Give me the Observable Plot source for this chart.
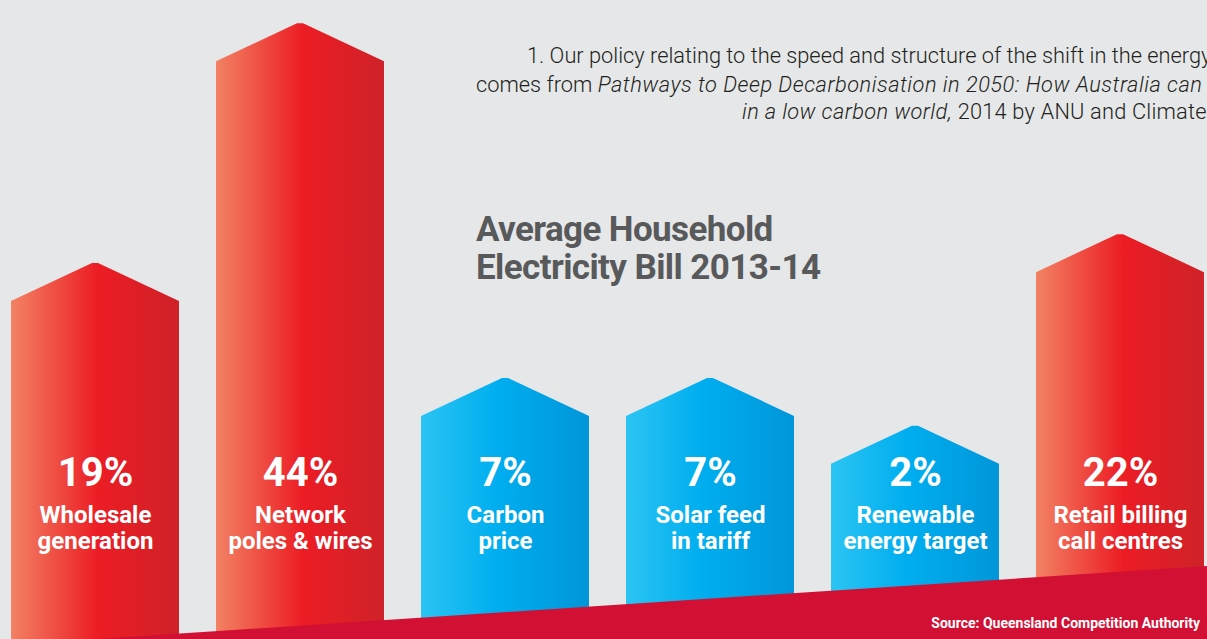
<!DOCTYPE html>
<html>
<head>
<meta charset="utf-8">
<script src="https://cdn.jsdelivr.net/npm/d3@7"></script>
<script src="https://cdn.jsdelivr.net/npm/@observablehq/plot@0.6"></script>
<style>
  html, body { margin: 0; padding: 0; background: #e6e7e8; overflow: hidden; }
  #wrap { position: relative; width: 1207px; height: 639px; overflow: hidden; }
  #wrap svg { position: absolute; left: 0; top: 0; }
  .note { position: absolute; white-space: nowrap; font-family: "Roboto", sans-serif; font-weight: 300; font-size: 21.8px; color: #231f20; }
  .note i { letter-spacing: 0.5px; }
  .note.l3 { letter-spacing: 0.2px; }
  .note.l3 i { letter-spacing: 0.4px; }
  .title { position: absolute; left: 476px; top: 211px; font-family: "Roboto", sans-serif; font-weight: 700; font-size: 35px; line-height: 38px; color: #58595b; letter-spacing: -0.6px; white-space: nowrap; }
  .source { position: absolute; right: 7px; bottom: 8px; font-family: "Roboto", sans-serif; font-weight: 700; font-size: 14px; color: #ffffff; white-space: nowrap; }
</style>
</head>
<body>
<div id="wrap"></div>
<script>
// ---- data ----
const categories = ["Wholesale generation", "Network poles & wires", "Carbon price", "Solar feed in tariff", "Renewable energy target", "Retail billing call centres"];
const shares = [19, 44, 7, 7, 2, 22];
const groups = ["supply", "supply", "policy", "policy", "policy", "supply"];
const labelLine1 = ["Wholesale", "Network", "Carbon", "Solar feed", "Renewable", "Retail billing"];
const labelLine2 = ["generation", "poles & wires", "price", "in tariff", "energy target", "call centres"];
const titleLines = ["Average Household", "Electricity Bill 2013-14"];
const noteLines = [
  "1. Our policy relating to the speed and structure of the shift in the energy",
  "comes from <i>Pathways to Deep Decarbonisation in 2050: How Australia can p</i>",
  "<i>in a low carbon world,</i> 2014 by ANU and Climate"
];
const sourceText = "Source: Queensland Competition Authority";

// ---- styles ----
const gradients = {
  supply: [["0%", "#f28263"], ["52%", "#ec1c24"], ["100%", "#cf2229"]],
  policy: [["0%", "#2bc4f3"], ["45%", "#00aeef"], ["100%", "#0096d9"]]
};

const data = categories.map((c, i) => ({
  category: c, share: shares[i], group: groups[i],
  pct: shares[i] + "%", label: labelLine1[i] + "\n" + labelLine2[i]
}));

function houseRender(index, scales, values, dimensions) {
  const bw = scales.x.bandwidth();
  const g = d3.create("svg:g");
  const defs = g.append("defs");
  for (const [key, stops] of Object.entries(gradients)) {
    const lg = defs.append("linearGradient").attr("id", "grad-" + key)
      .attr("x1", "0").attr("x2", "1").attr("y1", "0").attr("y2", "0");
    for (const [o, c] of stops) lg.append("stop").attr("offset", o).attr("stop-color", c);
  }
  const roof = 38, flat = 3, bottom = dimensions.height;
  for (const i of index) {
    const x0 = values.x[i], x1 = x0 + bw, cx = (x0 + x1) / 2;
    const ys = Math.min(values.y1[i], values.y2[i]);
    const path = d3.path();
    path.moveTo(x0, bottom);
    path.lineTo(x0, ys);
    path.lineTo(cx - flat, ys - roof);
    path.lineTo(cx + flat, ys - roof);
    path.lineTo(x1, ys);
    path.lineTo(x1, bottom);
    path.closePath();
    g.append("path").attr("d", path.toString()).attr("fill", `url(#grad-${data[i].group})`);
  }
  return g.node();
}

function ribbon(index, scales, values, dimensions) {
  const {width, height} = dimensions;
  return d3.create("svg:path")
    .attr("d", `M${width * 0.08},${height} L${width},${height - 73} L${width},${height} Z`)
    .attr("fill", "#d21034").node();
}

const chart = Plot.plot({
  width: 1207,
  height: 639,
  marginLeft: 9,
  marginRight: 0,
  marginTop: 0,
  marginBottom: 156,
  style: { background: "transparent", overflow: "visible" },
  x: { domain: categories, paddingInner: 0.18, paddingOuter: 0, axis: null },
  y: { domain: [0, 50.4], axis: null },
  marks: [
    Plot.barY(data, { x: "category", y: "share", render: houseRender }),
    ribbon,
    Plot.text(data, { x: "category", text: "pct", frameAnchor: "top", lineAnchor: "top", dy: 457, fill: "white", fontSize: 40, fontWeight: 700, fontFamily: "Roboto", letterSpacing: "1.5px" }),
    Plot.text(data, { x: "category", text: "label", frameAnchor: "top", lineAnchor: "top", dy: 504, lineHeight: 1.08, fill: "white", fontSize: 24, fontWeight: 700, fontFamily: "Roboto" })
  ]
});

const wrap = document.getElementById("wrap");
wrap.appendChild(chart);

const title = document.createElement("div");
title.className = "title";
title.innerHTML = titleLines.join("<br>");
wrap.appendChild(title);

const noteLeft = [527, 476, 742];
const noteTop = [43, 72, 99];
noteLines.forEach((t, i) => {
  const d = document.createElement("div");
  d.className = "note l" + (i + 1);
  d.style.left = noteLeft[i] + "px";
  d.style.top = noteTop[i] + "px";
  d.innerHTML = t;
  wrap.appendChild(d);
});

const src = document.createElement("div");
src.className = "source";
src.textContent = sourceText;
wrap.appendChild(src);
</script>
</body>
</html>
